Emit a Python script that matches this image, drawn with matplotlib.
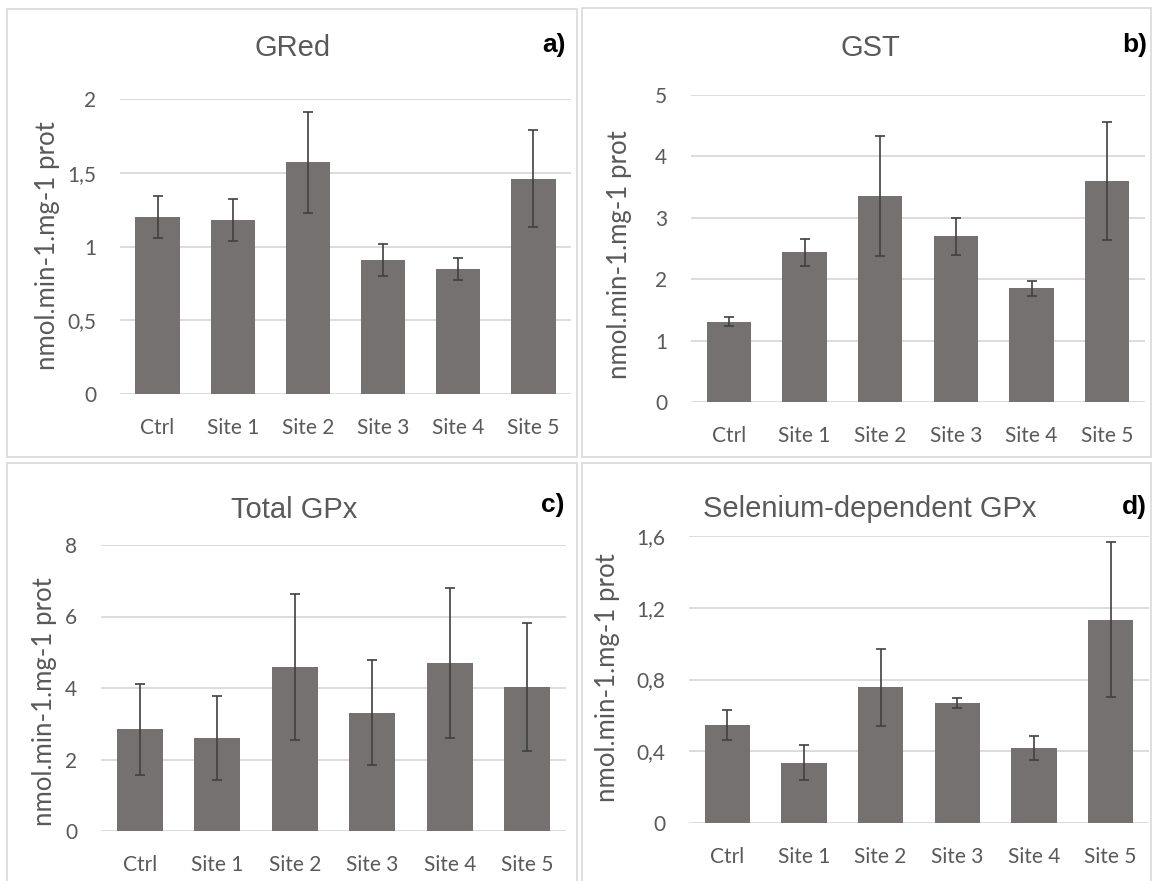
import numpy as np
import matplotlib.pyplot as plt
from matplotlib.patches import Rectangle

# Data
categories = ["Ctrl", "Site 1", "Site 2", "Site 3", "Site 4", "Site 5"]

gred_mean = [1.20, 1.18, 1.57, 0.91, 0.85, 1.46]
gred_err = [0.14, 0.145, 0.345, 0.107, 0.074, 0.33]

gst_mean = [1.31, 2.44, 3.36, 2.70, 1.85, 3.60]
gst_err = [0.08, 0.22, 0.975, 0.30, 0.12, 0.96]

tgpx_mean = [2.84, 2.60, 4.59, 3.31, 4.70, 4.02]
tgpx_err = [1.27, 1.17, 2.05, 1.47, 2.10, 1.79]

segpx_mean = [0.545, 0.337, 0.756, 0.669, 0.419, 1.133]
segpx_err = [0.084, 0.099, 0.214, 0.027, 0.065, 0.433]

gred_ticks = [0, 0.5, 1, 1.5, 2]
gred_ticklabels = ["0", "0,5", "1", "1,5", "2"]
gst_ticks = [0, 1, 2, 3, 4, 5]
gst_ticklabels = ["0", "1", "2", "3", "4", "5"]
tgpx_ticks = [0, 2, 4, 6, 8]
tgpx_ticklabels = ["0", "2", "4", "6", "8"]
segpx_ticks = [0, 0.4, 0.8, 1.2, 1.6]
segpx_ticklabels = ["0", "0,4", "0,8", "1,2", "1,6"]

ylabel = "nmol.min-1.mg-1 prot"

# Colours (Excel default grey style)
BAR = "#767171"
ERR = "#404040"
GRID = "#D9D9D9"
TEXT = "#595959"

plt.rcParams['font.family'] = ['Lato', 'DejaVu Sans']

W, H = 1153, 881
fig = plt.figure(figsize=(W / 100, H / 100), dpi=100)
fig.patch.set_facecolor("white")


def px_rect(x0, y0, x1, y1):
    # pixel box (top-left origin) -> figure fraction rect
    return [x0 / W, 1 - y1 / H, (x1 - x0) / W, (y1 - y0) / H]


def fx(x):
    return x / W


def fy(y):
    return 1 - y / H


# panel: data, ticks, titles, pixel layout
panels = [
    dict(mean=gred_mean, err=gred_err, ticks=gred_ticks, labels=gred_ticklabels,
         title="GRed", letter="a)", plot=(120, 99, 571, 394),
         box=(7, 9, 577, 457), title_xy=(293, 48), letter_xy=(566, 45), ylab_xy=(48, 246)),
    dict(mean=gst_mean, err=gst_err, ticks=gst_ticks, labels=gst_ticklabels,
         title="GST", letter="b)", plot=(691, 95, 1145, 402),
         box=(582, 8, 1151, 457), title_xy=(870, 48), letter_xy=(1147, 45), ylab_xy=(620, 255)),
    dict(mean=tgpx_mean, err=tgpx_err, ticks=tgpx_ticks, labels=tgpx_ticklabels,
         title="Total GPx", letter="c)", plot=(101, 545, 566, 831),
         box=(7, 463, 577, 895), title_xy=(294, 510), letter_xy=(564, 505), ylab_xy=(45, 702)),
    dict(mean=segpx_mean, err=segpx_err, ticks=segpx_ticks, labels=segpx_ticklabels,
         title="Selenium-dependent GPx", letter="d)", plot=(689, 536, 1149, 823),
         box=(582, 463, 1151, 895), title_xy=(870, 509), letter_xy=(1147, 507), ylab_xy=(607, 678)),
]

x = np.arange(len(categories))

for p in panels:
    # chart area border
    bx0, by0, bx1, by1 = p["box"]
    fig.patches.append(Rectangle((fx(bx0), fy(by1)), (bx1 - bx0) / W, (by1 - by0) / H,
                                 transform=fig.transFigure, fill=False,
                                 edgecolor=GRID, linewidth=1.2))

    ax = fig.add_axes(px_rect(*p["plot"]))
    ax.bar(x, p["mean"], width=0.59, color=BAR, zorder=2)
    ax.errorbar(x, p["mean"], yerr=p["err"], fmt="none", ecolor=ERR,
                elinewidth=1.2, capsize=3.5, capthick=1.2, zorder=3)

    ax.set_xlim(-0.5, 5.5)
    ax.set_ylim(p["ticks"][0], p["ticks"][-1])
    ax.set_yticks(p["ticks"])
    ax.set_yticklabels(p["labels"])
    ax.set_xticks(x)
    ax.set_xticklabels(categories)
    ax.yaxis.grid(True, color=GRID, linewidth=1.3, zorder=0)
    ax.set_axisbelow(True)
    for s in ax.spines.values():
        s.set_visible(False)
    ax.tick_params(axis="both", length=0, labelsize=15, colors=TEXT)
    ax.tick_params(axis="y", pad=17)
    ax.tick_params(axis="x", pad=17)

    fig.text(fx(p["title_xy"][0]), fy(p["title_xy"][1]), p["title"],
             family=["Liberation Sans", "DejaVu Sans"], fontsize=21, color=TEXT,
             ha="center", va="center")
    fig.text(fx(p["letter_xy"][0]), fy(p["letter_xy"][1]), p["letter"],
             family=["Liberation Sans", "DejaVu Sans"], fontsize=19, fontweight="bold",
             color="black", ha="right", va="center")
    fig.text(fx(p["ylab_xy"][0]), fy(p["ylab_xy"][1]), ylabel, rotation=90,
             fontsize=18.5, color=TEXT, ha="center", va="center")

fig.savefig("out.png", dpi=100)
